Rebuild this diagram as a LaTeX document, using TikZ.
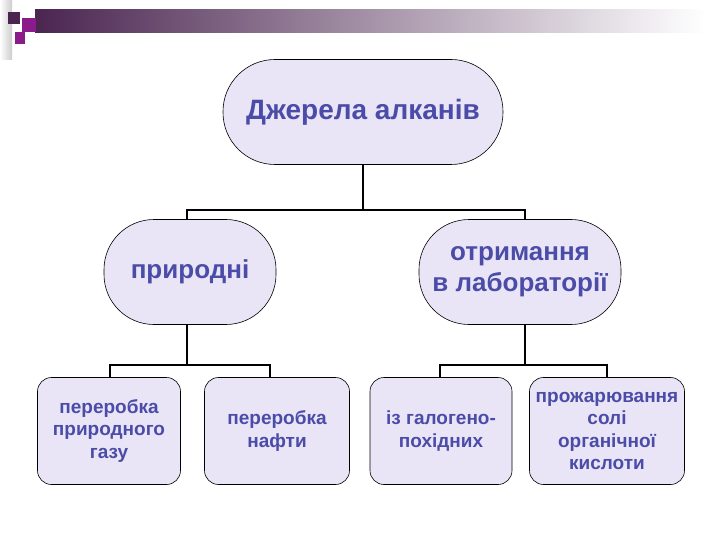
\documentclass[tikz,border=0pt]{standalone}
\usepackage{fontspec}
\setmainfont{Liberation Sans}
\definecolor{txt}{HTML}{4B4BA8}
\definecolor{fillc}{HTML}{E9E5F7}
\definecolor{dpurp}{HTML}{4A2550}
\definecolor{mag}{HTML}{8B1A8B}
\begin{document}
\begin{tikzpicture}[x=1pt,y=-1pt,
  box/.style={draw=black,fill=fillc,line width=0.6pt,text=txt,font=\bfseries,align=center,inner sep=0pt},
  oval/.style={box,rounded corners=52pt},
  rect/.style={box,rounded corners=14pt,font=\bfseries\fontsize{19}{22.5}\selectfont},
  conn/.style={line width=1.6pt}]
\useasboundingbox (0,0) rectangle (720,540);
% header decoration
\shade[left color=dpurp,right color=white] (35,10) rectangle (705,33);
\fill[left color=white,right color=gray!40] (0,0) rectangle (12,60);
\fill[dpurp] (8,12) rectangle (20,24);
\fill[mag] (22,18) rectangle (36,32);
\fill[mag] (15,32) rectangle (25,44);
% nodes
\node[oval,font=\bfseries\fontsize{28}{32}\selectfont,minimum width=280pt,minimum height=105pt] (top) at (363,112) {Джерела алканів};
\node[oval,font=\bfseries\fontsize{26}{31}\selectfont,rounded corners=50pt,minimum width=172pt,minimum height=105pt] (nat) at (190,272) {природні};
\node[oval,font=\bfseries\fontsize{26}{31}\selectfont,rounded corners=50pt,minimum width=202pt,minimum height=105pt] (lab) at (520,272) {отримання\\в лабораторії};
\node[rect,minimum width=143pt,minimum height=107pt] (b1) at (109,431) {переробка\\природного\\газу};
\node[rect,minimum width=145pt,minimum height=107pt] (b2) at (277,431) {переробка\\нафти};
\node[rect,minimum width=142pt,minimum height=107pt] (b3) at (441,431) {із галогено-\\похідних};
\node[rect,minimum width=155pt,minimum height=107pt] (b4) at (607,431) {прожарювання\\солі\\органічної\\кислоти};
% connectors
\coordinate (h1) at (363,210);
\draw[conn] (top.south) -- (h1);
\draw[conn] (nat.north -| 187,0) |- (h1) -| (lab.north -| 525,0);
\coordinate (h2) at (187,365);
\draw[conn] (nat.south -| 187,0) -- (h2);
\draw[conn] (b1.north -| 110,0) |- (h2) -| (b2.north -| 270,0);
\coordinate (h3) at (525,365);
\draw[conn] (lab.south -| 525,0) -- (h3);
\draw[conn] (b3.north -| 440,0) |- (h3) -| (b4.north -| 607,0);
\end{tikzpicture}
\end{document}
